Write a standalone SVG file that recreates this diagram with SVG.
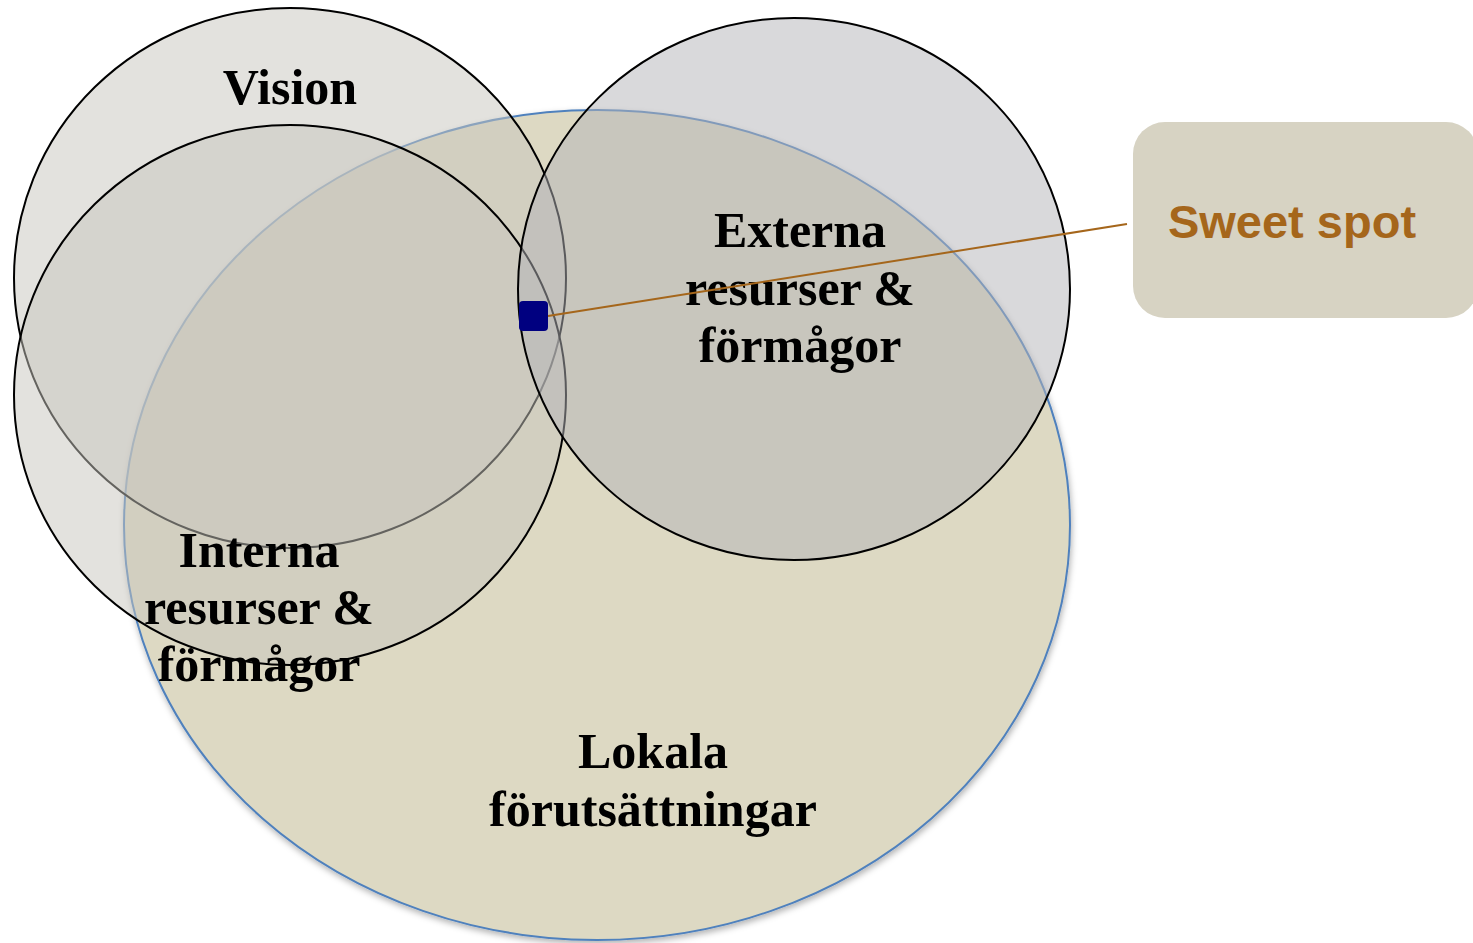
<svg xmlns="http://www.w3.org/2000/svg" width="1473" height="943" viewBox="0 0 1473 943">
<defs>
<filter id="sh" x="-5%" y="-5%" width="110%" height="112%">
<feDropShadow dx="1" dy="3" stdDeviation="3" flood-color="#000" flood-opacity="0.3"/>
</filter>
</defs>
<style>
.lbl{font-family:"Liberation Serif","DejaVu Serif",serif;font-weight:bold;font-size:50px;fill:#000;text-anchor:middle}
.circ{stroke:#000;stroke-width:2}
.gray{fill:#c8c6bd;fill-opacity:0.5}
.blu{fill:#b3b3b8;fill-opacity:0.5}
</style>
<rect width="1473" height="943" fill="#fff"/>
<g id="lokala">
<ellipse cx="597" cy="525" rx="473" ry="415" fill="#ddd9c3" stroke="#4f81bd" stroke-width="2" filter="url(#sh)"/>
<text class="lbl" x="653" y="768">Lokala</text>
<text class="lbl" x="653" y="826">förutsättningar</text>
</g>
<g id="vision">
<ellipse class="circ gray" cx="290" cy="278" rx="276" ry="270"/>
<text class="lbl" x="290" y="104">Vision</text>
</g>
<g id="interna">
<ellipse class="circ gray" cx="290" cy="395" rx="276" ry="270"/>
<text class="lbl" x="259" y="567">Interna</text>
<text class="lbl" x="259" y="624">resurser &amp;</text>
<text class="lbl" x="259" y="681">förmågor</text>
</g>
<g id="externa">
<ellipse class="circ blu" cx="794" cy="289" rx="276" ry="271"/>
<text class="lbl" x="800" y="247">Externa</text>
<text class="lbl" x="800" y="305">resurser &amp;</text>
<text class="lbl" x="800" y="362">förmågor</text>
</g>
<g id="connectors">
<line x1="548" y1="316" x2="1127" y2="224" stroke="#a5661b" stroke-width="2"/>
</g>
<g id="sweetspot-marker">
<rect x="519" y="301" width="29" height="30" rx="4" fill="#000080"/>
</g>
<g id="sweetspot">
<rect x="1133" y="122" width="345" height="196" rx="32" fill="#d7d3c3"/>
<text x="1292" y="238" font-family="'Liberation Sans',Arial,sans-serif" font-weight="bold" font-size="47" fill="#a5661b" text-anchor="middle">Sweet spot</text>
</g>
</svg>
